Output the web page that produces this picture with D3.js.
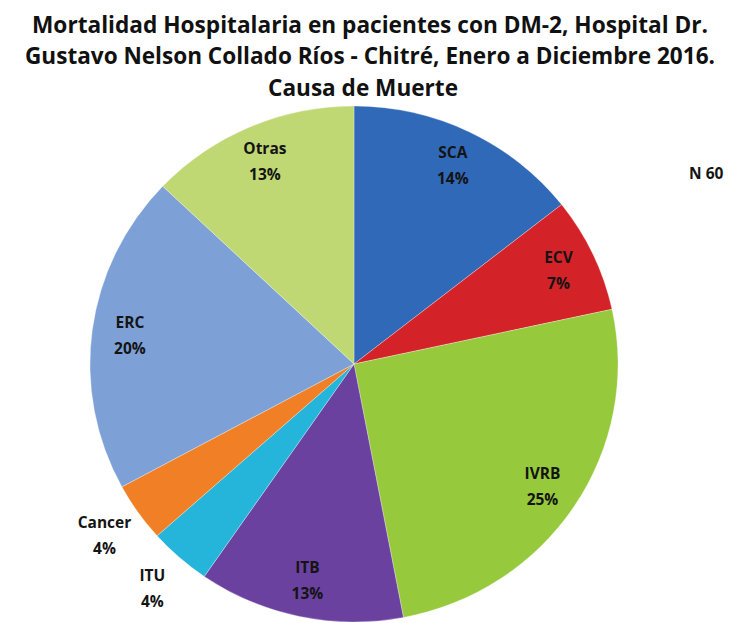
<!DOCTYPE html>
<html>
<head>
<meta charset="utf-8">
<script src="https://cdn.jsdelivr.net/npm/d3@7"></script>
<style>
  html, body { margin: 0; padding: 0; background: #fff; }
  svg { display: block; }
</style>
</head>
<body>
<div id="chart"></div>
<script>
// Data
const causes = ["SCA", "ECV", "IVRB", "ITB", "ITU", "Cancer", "ERC", "Otras"];
const shares = [14.4, 7.2, 25.4, 12.6, 3.8, 3.7, 20.0, 12.9];
const colors = ["#3169b9", "#d42328", "#96c93c", "#6b41a0", "#25b5da", "#f07f25", "#7da1d6", "#c0d874"];
const titleLines = [
  "Mortalidad Hospitalaria en pacientes con DM-2, Hospital Dr.",
  "Gustavo Nelson Collado Ríos - Chitré, Enero a Diciembre 2016.",
  "Causa de Muerte"
];
const totalLabel = "N 60";

// Config
const width = 729, height = 623;
const cx = 354, cy = 364;
const radius = 264;
const ky = 258 / 264; // pie is slightly squashed vertically
const insideR = 226, outsideR = 305;
const labelFont = "'Open Sans', sans-serif";

const svg = d3.select("#chart").append("svg")
  .attr("width", width)
  .attr("height", height);

const data = causes.map((c, i) => ({ cause: c, value: shares[i], color: colors[i] }));
const total = d3.sum(shares);

const pie = d3.pie().sort(null).value(d => d.value);
const arcs = pie(data);

const arc = d3.arc().innerRadius(0).outerRadius(radius);

// Slices
svg.append("g")
  .attr("transform", `translate(${cx},${cy}) scale(1,${ky})`)
  .selectAll("path")
  .data(arcs)
  .join("path")
  .attr("d", arc)
  .attr("fill", d => d.data.color)
  .attr("stroke", "#ffffff")
  .attr("stroke-opacity", 0.5)
  .attr("stroke-width", 0.6);

// Slice labels (small ones go outside)
const labelPos = d => {
  const r = d.data.value < 5 ? outsideR : insideR;
  const a = (d.startAngle + d.endAngle) / 2;
  return [cx + Math.sin(a) * r, cy - Math.cos(a) * r * ky];
};

const labels = svg.append("g")
  .selectAll("text")
  .data(arcs)
  .join("text")
  .attr("text-anchor", "middle")
  .style("font-family", labelFont)
  .style("font-weight", "bold")
  .style("font-size", "15.5px")
  .attr("fill", "#141414");

labels.append("tspan")
  .attr("x", d => labelPos(d)[0])
  .attr("y", d => labelPos(d)[1] - 7)
  .text(d => d.data.cause);

labels.append("tspan")
  .attr("x", d => labelPos(d)[0])
  .attr("y", d => labelPos(d)[1] + 19)
  .text(d => Math.round(d.data.value / total * 100) + "%");

// Title (slightly stretched vertically to mimic the tall condensed face)
const titleY = [33, 64, 96];
const titleW = [676, 690, 190];
const titleX = [370, 370, 363];
svg.append("g")
  .selectAll("text")
  .data(titleLines)
  .join("text")
  .attr("transform", (d, i) => `translate(${titleX[i]},${titleY[i]}) scale(1,1.12)`)
  .attr("text-anchor", "middle")
  .attr("textLength", (d, i) => titleW[i])
  .attr("lengthAdjust", "spacingAndGlyphs")
  .style("font-family", labelFont)
  .style("font-weight", "bold")
  .style("font-size", "21px")
  .attr("fill", "#111")
  .text(d => d);

// Total count
svg.append("text")
  .attr("x", 689)
  .attr("y", 179)
  .style("font-family", labelFont)
  .style("font-weight", "bold")
  .style("font-size", "15.5px")
  .attr("fill", "#141414")
  .text(totalLabel);
</script>
</body>
</html>
